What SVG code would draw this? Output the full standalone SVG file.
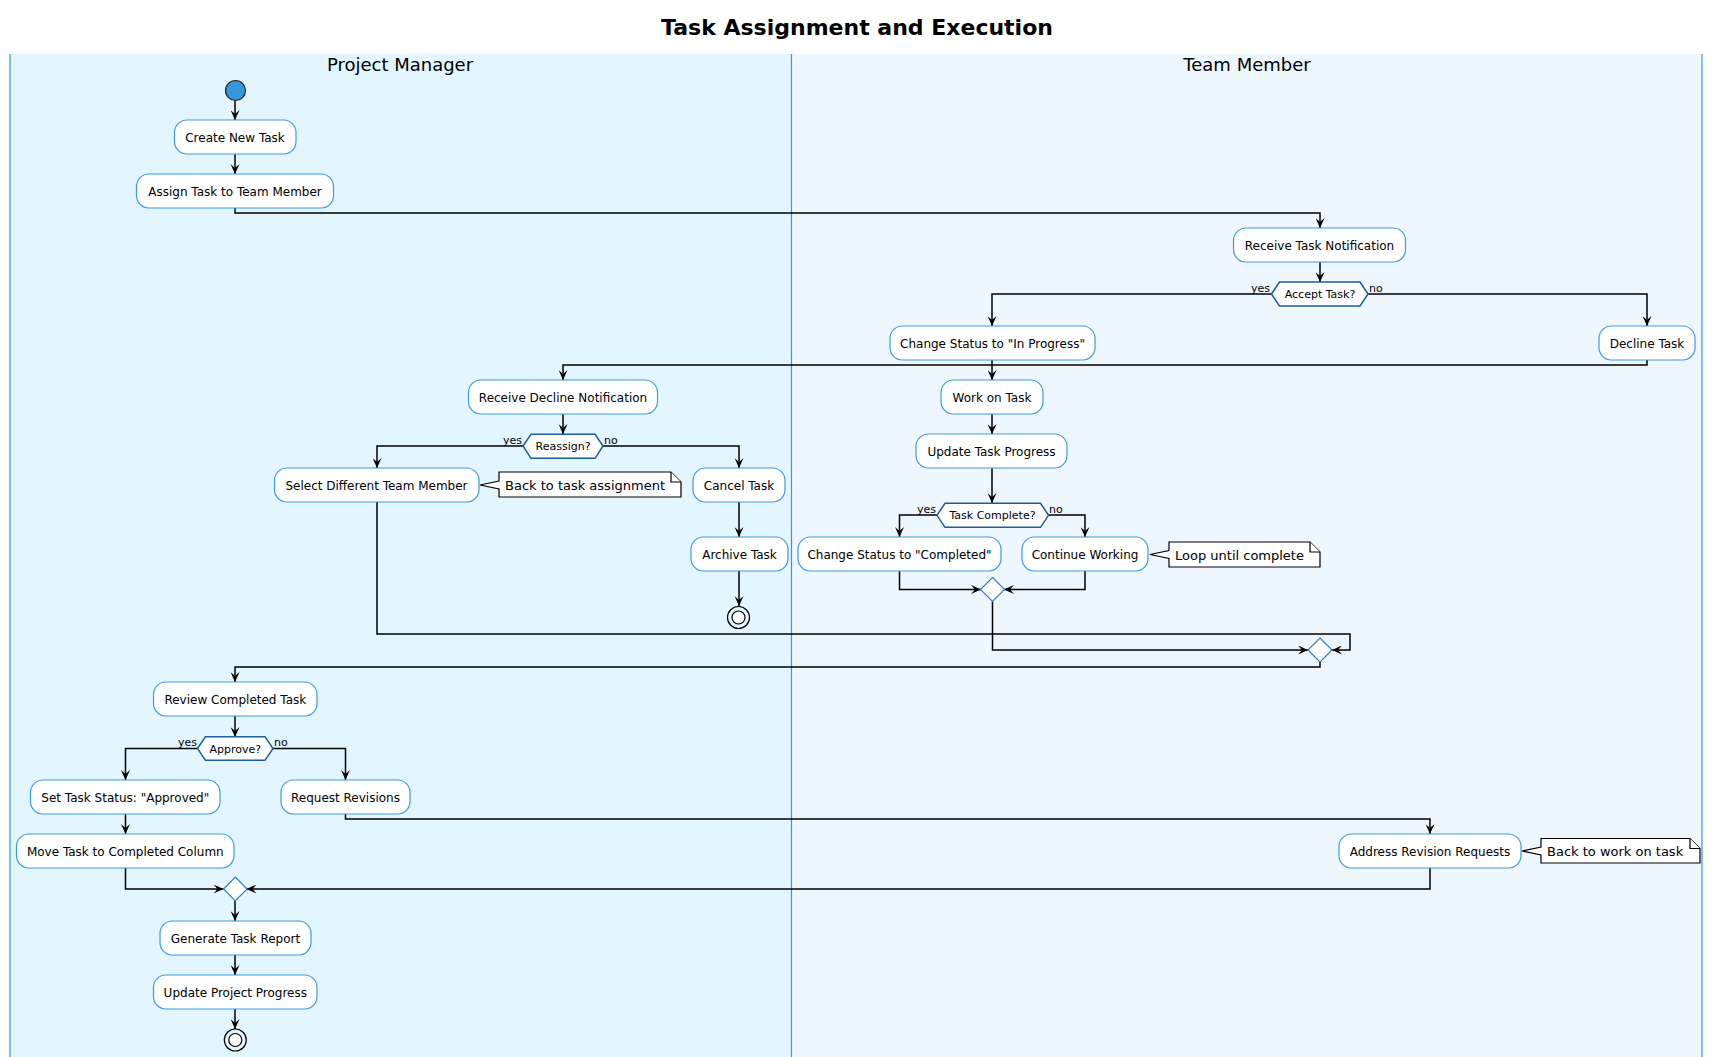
<svg xmlns="http://www.w3.org/2000/svg" width="1717" height="1057" viewBox="0 0 1717 1057">
<style>
.t{font-family:"DejaVu Sans","Noto Sans",sans-serif;fill:#000}
.title{font-size:22px;font-weight:bold;text-anchor:middle}
.lane{font-size:18px;text-anchor:middle}
.n{font-size:12px;text-anchor:middle}
.d{font-size:11px;text-anchor:middle}
.lbl{font-size:11px}
.nt{font-size:13px}
.box{fill:#fff;stroke:#3D9CE0;stroke-width:1.2}
.hex{fill:#fff;stroke:#1B5C9E;stroke-width:1.5}
.mrg{fill:#fff;stroke:#2F7FC8;stroke-width:1.2}
.note{fill:#fff;stroke:#000;stroke-width:1.2}
.c{fill:none;stroke:#000;stroke-width:1.5;marker-end:url(#ah)}
.lb{stroke:#3A96DA;stroke-width:1.2}
</style>
<defs>
<marker id="ah" viewBox="0 0 10 9" refX="10" refY="4.5" markerWidth="10" markerHeight="9" markerUnits="userSpaceOnUse" orient="auto">
<path d="M0,0 L10,4.5 L0,9 L4,4.5 Z" fill="#000"/>
</marker>
</defs>
<rect x="0" y="0" width="1717" height="1057" fill="#fff"/>
<text class="t title" x="857" y="35">Task Assignment and Execution</text>
<g id="lanes">
<rect x="10" y="54" width="781.5" height="1003" fill="#E3F5FE"/>
<rect x="791.5" y="54" width="910.5" height="1003" fill="#EEF7FE"/>
<line class="lb" x1="10" y1="54" x2="10" y2="1057"/>
<line class="lb" x1="791.5" y1="54" x2="791.5" y2="1057"/>
<line class="lb" x1="1702" y1="54" x2="1702" y2="1057"/>
<text class="t lane" x="400" y="71">Project Manager</text>
<text class="t lane" x="1247" y="71">Team Member</text>
</g>
<g id="connectors">
<path class="c" d="M235,100.5 V120"/>
<path class="c" d="M235,154 V174"/>
<path class="c" d="M235,208 V213 H1320 V228"/>
<path class="c" d="M1320,262 V282"/>
<path class="c" d="M1271.5,294 H992 V326"/>
<path class="c" d="M1368,294 H1647 V326"/>
<path class="c" d="M992,360 V380"/>
<path class="c" d="M1647,360 V365 H563 V380"/>
<path class="c" d="M563,414 V434"/>
<path class="c" d="M523,446 H377 V468"/>
<path class="c" d="M603,446 H739 V468"/>
<path class="c" d="M739,502 V537"/>
<path class="c" d="M739,571 V606"/>
<path class="c" d="M992,414 V434"/>
<path class="c" d="M992,468 V503"/>
<path class="c" d="M937,515 H899.5 V537"/>
<path class="c" d="M1048,515 H1085 V537"/>
<path class="c" d="M899.5,571 V589.5 H981"/>
<path class="c" d="M1085,571 V589.5 H1004"/>
<path class="c" d="M992.5,601.5 V650 H1308"/>
<path class="c" d="M377,502 V634 H1350 V650 H1332"/>
<path class="c" d="M1320,662 V667 H235 V682"/>
<path class="c" d="M235,716 V737"/>
<path class="c" d="M197.5,748.5 H125.5 V780"/>
<path class="c" d="M273,748.5 H345.5 V780"/>
<path class="c" d="M125.5,814 V834"/>
<path class="c" d="M345.5,814 V819 H1430 V834"/>
<path class="c" d="M125.5,868 V889 H223.5"/>
<path class="c" d="M1430,868 V889 H246.5"/>
<path class="c" d="M235,901 V921"/>
<path class="c" d="M235,955 V975"/>
<path class="c" d="M235,1009 V1029"/>
<text class="t lbl" x="1270" y="292" text-anchor="end">yes</text>
<text class="t lbl" x="1369" y="292">no</text>
<text class="t lbl" x="522" y="444" text-anchor="end">yes</text>
<text class="t lbl" x="604" y="444">no</text>
<text class="t lbl" x="936" y="513" text-anchor="end">yes</text>
<text class="t lbl" x="1049" y="513">no</text>
<text class="t lbl" x="197" y="746" text-anchor="end">yes</text>
<text class="t lbl" x="274" y="746">no</text>
</g>
<g id="start"><circle cx="235.5" cy="90.5" r="10" fill="#3498DB" stroke="#222" stroke-width="1.2"/></g>
<g id="create-task"><rect class="box" x="174.5" y="120" width="121.5" height="34" rx="12.5"/><text class="t n" x="235" y="141.5">Create New Task</text></g>
<g id="assign-task"><rect class="box" x="136.5" y="174" width="197" height="34" rx="12.5"/><text class="t n" x="235" y="195.5">Assign Task to Team Member</text></g>
<g id="receive-notification"><rect class="box" x="1233.5" y="228" width="172" height="34" rx="12.5"/><text class="t n" x="1319.5" y="249.5">Receive Task Notification</text></g>
<g id="accept-decision"><path class="hex" d="M1271.5,294 L1279.5,282 H1360 L1368,294 L1360,306 H1279.5 Z"/><text class="t d" x="1320" y="298">Accept Task?</text></g>
<g id="in-progress"><rect class="box" x="890" y="326" width="205" height="34" rx="12.5"/><text class="t n" x="992.5" y="347.5">Change Status to "In Progress"</text></g>
<g id="decline-task"><rect class="box" x="1599" y="326" width="96" height="34" rx="12.5"/><text class="t n" x="1647" y="347.5">Decline Task</text></g>
<g id="receive-decline"><rect class="box" x="468.5" y="380" width="189" height="34" rx="12.5"/><text class="t n" x="563" y="401.5">Receive Decline Notification</text></g>
<g id="work-on-task"><rect class="box" x="941" y="380" width="102" height="34" rx="12.5"/><text class="t n" x="992" y="401.5">Work on Task</text></g>
<g id="reassign-decision"><path class="hex" d="M523,446 L531,434.3 H595 L603,446 L595,458.3 H531 Z"/><text class="t d" x="563" y="450">Reassign?</text></g>
<g id="update-task-progress"><rect class="box" x="916" y="434" width="151" height="34" rx="12.5"/><text class="t n" x="991.5" y="455.5">Update Task Progress</text></g>
<g id="select-member"><rect class="box" x="274.5" y="468" width="204.5" height="34" rx="12.5"/><text class="t n" x="376.5" y="489.5">Select Different Team Member</text></g>
<g id="note-back-assignment"><path class="note" d="M499,472 H671 L681,482 V497 H499 V489 L480,485 L499,481 Z"/><path class="note" d="M671,472 V482 H681" fill="none"/><text class="t nt" x="505" y="490">Back to task assignment</text></g>
<g id="cancel-task"><rect class="box" x="693" y="468" width="92" height="34" rx="12.5"/><text class="t n" x="739" y="489.5">Cancel Task</text></g>
<g id="complete-decision"><path class="hex" d="M937,515.3 L945,503.3 H1040.5 L1048.5,515.3 L1040.5,527.3 H945 Z"/><text class="t d" x="992.5" y="519.3">Task Complete?</text></g>
<g id="archive-task"><rect class="box" x="691" y="537" width="97" height="34" rx="12.5"/><text class="t n" x="739.5" y="558.5">Archive Task</text></g>
<g id="status-completed"><rect class="box" x="798" y="537" width="203" height="34" rx="12.5"/><text class="t n" x="899.5" y="558.5">Change Status to "Completed"</text></g>
<g id="continue-working"><rect class="box" x="1022" y="537" width="126" height="34" rx="12.5"/><text class="t n" x="1085" y="558.5">Continue Working</text></g>
<g id="note-loop"><path class="note" d="M1169,542 H1310 L1320,552 V567 H1169 V558.5 L1150,554.5 L1169,550.5 Z"/><path class="note" d="M1310,542 V552 H1320" fill="none"/><text class="t nt" x="1175" y="559.5">Loop until complete</text></g>
<g id="end-cancel"><circle cx="738.5" cy="617.5" r="11" fill="none" stroke="#000" stroke-width="1.2"/><circle cx="738.5" cy="617.5" r="6.5" fill="#fff" stroke="#000" stroke-width="1.2"/></g>
<g id="merge-complete"><path class="mrg" d="M992.5,577.5 L1004.5,589.5 L992.5,601.5 L980.5,589.5 Z"/></g>
<g id="merge-work"><path class="mrg" d="M1320,638 L1332,650 L1320,662 L1308,650 Z"/></g>
<g id="review-task"><rect class="box" x="153.5" y="682" width="163.5" height="34" rx="12.5"/><text class="t n" x="235.3" y="703.5">Review Completed Task</text></g>
<g id="approve-decision"><path class="hex" d="M197.5,748.5 L205.5,736.7 H265 L273,748.5 L265,760.3 H205.5 Z"/><text class="t d" x="235.3" y="752.5">Approve?</text></g>
<g id="set-approved"><rect class="box" x="30.5" y="780" width="189.5" height="34" rx="12.5"/><text class="t n" x="125.3" y="801.5">Set Task Status: "Approved"</text></g>
<g id="request-revisions"><rect class="box" x="281" y="780" width="129" height="34" rx="12.5"/><text class="t n" x="345.5" y="801.5">Request Revisions</text></g>
<g id="move-completed"><rect class="box" x="16.5" y="834" width="217.5" height="34" rx="12.5"/><text class="t n" x="125.3" y="855.5">Move Task to Completed Column</text></g>
<g id="address-revisions"><rect class="box" x="1339" y="834" width="182" height="34" rx="12.5"/><text class="t n" x="1430" y="855.5">Address Revision Requests</text></g>
<g id="note-back-work"><path class="note" d="M1541,838.5 H1690 L1700,848.5 V863 H1541 V855 L1522,851 L1541,847 Z"/><path class="note" d="M1690,838.5 V848.5 H1700" fill="none"/><text class="t nt" x="1547" y="856">Back to work on task</text></g>
<g id="merge-review"><path class="mrg" d="M235.3,877 L247,889 L235.3,901 L223.6,889 Z"/></g>
<g id="generate-report"><rect class="box" x="160" y="921" width="151" height="34" rx="12.5"/><text class="t n" x="235.5" y="942.5">Generate Task Report</text></g>
<g id="update-project"><rect class="box" x="153.5" y="975" width="163.5" height="34" rx="12.5"/><text class="t n" x="235.3" y="996.5">Update Project Progress</text></g>
<g id="end-main"><circle cx="235.3" cy="1040" r="11" fill="none" stroke="#000" stroke-width="1.2"/><circle cx="235.3" cy="1040" r="6.5" fill="#fff" stroke="#000" stroke-width="1.2"/></g>
</svg>
